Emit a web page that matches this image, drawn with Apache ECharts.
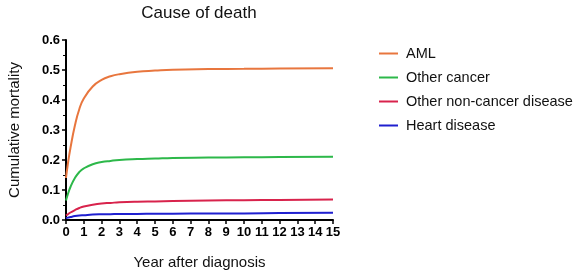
<!DOCTYPE html>
<html>
<head>
<meta charset="utf-8">
<script src="https://cdn.jsdelivr.net/npm/echarts@6/dist/echarts.min.js"></script>
<style>
  html, body { margin: 0; padding: 0; background: #fff; }
  #chart { width: 579px; height: 273px; }
</style>
</head>
<body>
<div id="chart"></div>
<script>
// years after diagnosis
const years = [0, 0.1, 0.25, 0.5, 0.75, 1, 1.5, 2, 2.5, 3, 4, 5, 6, 8, 10, 12, 15]

const aml = [0.14, 0.185, 0.24, 0.315, 0.37, 0.405, 0.445, 0.467, 0.479, 0.486, 0.494, 0.498, 0.501, 0.503, 0.504, 0.505, 0.506]
const otherCancer = [0.065, 0.085, 0.11, 0.14, 0.16, 0.172, 0.186, 0.193, 0.197, 0.2, 0.203, 0.205, 0.207, 0.208, 0.209, 0.21, 0.211]
const nonCancer = [0.015, 0.019, 0.025, 0.033, 0.04, 0.045, 0.051, 0.055, 0.057, 0.059, 0.061, 0.062, 0.063, 0.065, 0.066, 0.067, 0.068]
const heart = [0.006, 0.008, 0.01, 0.013, 0.015, 0.016, 0.018, 0.019, 0.0195, 0.02, 0.02, 0.021, 0.021, 0.022, 0.022, 0.023, 0.024]

const names = ['AML', 'Other cancer', 'Other non-cancer disease', 'Heart disease']
const colors = ['#E8763E', '#2DB84A', '#D8234C', '#1F1FCF']

const font = 'Liberation Sans, Arial, sans-serif'

function pairs(vals) {
  return years.map((t, i) => [t, vals[i]])
}

const chart = echarts.init(document.getElementById('chart'))

const seriesData = [aml, otherCancer, nonCancer, heart]

chart.setOption({
  animation: false,
  title: {
    text: 'Cause of death',
    left: 194,
    textAlign: 'center',
    top: 0,
    textStyle: { fontFamily: font, fontSize: 17, fontWeight: 'normal', color: '#111' }
  },
  legend: {
    orient: 'vertical',
    left: 374,
    top: 41,
    itemWidth: 19,
    itemHeight: 2,
    itemGap: 9,
    icon: 'rect',
    data: names,
    textStyle: { fontFamily: font, fontSize: 14.5, color: '#111', padding: [0, 0, 0, 3] }
  },
  grid: {
    left: 66,
    right: 246,
    top: 40,
    bottom: 53,
    outerBoundsMode: 'none'
  },
  xAxis: {
    type: 'value',
    min: 0,
    max: 15,
    interval: 1,
    name: 'Year after diagnosis',
    nameLocation: 'middle',
    nameGap: 35,
    nameTextStyle: { fontFamily: font, fontSize: 15, color: '#111' },
    splitLine: { show: false },
    axisLine: { lineStyle: { color: '#000', width: 2 } },
    axisTick: { length: 4, lineStyle: { color: '#000', width: 1.5 } },
    axisLabel: { fontFamily: font, fontSize: 13, fontWeight: 'bold', color: '#000', margin: 6 }
  },
  yAxis: {
    type: 'value',
    min: 0,
    max: 0.6,
    interval: 0.1,
    name: 'Cumulative mortality',
    nameLocation: 'middle',
    nameGap: 44,
    nameTextStyle: { fontFamily: font, fontSize: 15, color: '#111' },
    splitLine: { show: false },
    axisLine: { show: true, lineStyle: { color: '#000', width: 2 } },
    axisTick: { show: true, length: 4, lineStyle: { color: '#000', width: 1.5 } },
    minorTick: { show: true, splitNumber: 2, length: 3, lineStyle: { color: '#000', width: 1 } },
    axisLabel: {
      fontFamily: font, fontSize: 13, fontWeight: 'bold', color: '#000', margin: 6,
      formatter: v => v.toFixed(1)
    }
  },
  series: names.map((n, i) => ({
    name: n,
    type: 'line',
    data: pairs(seriesData[i]),
    smooth: 0.5,
    showSymbol: false,
    color: colors[i],
    lineStyle: { width: 2, color: colors[i] }
  }))
})
</script>
</body>
</html>
